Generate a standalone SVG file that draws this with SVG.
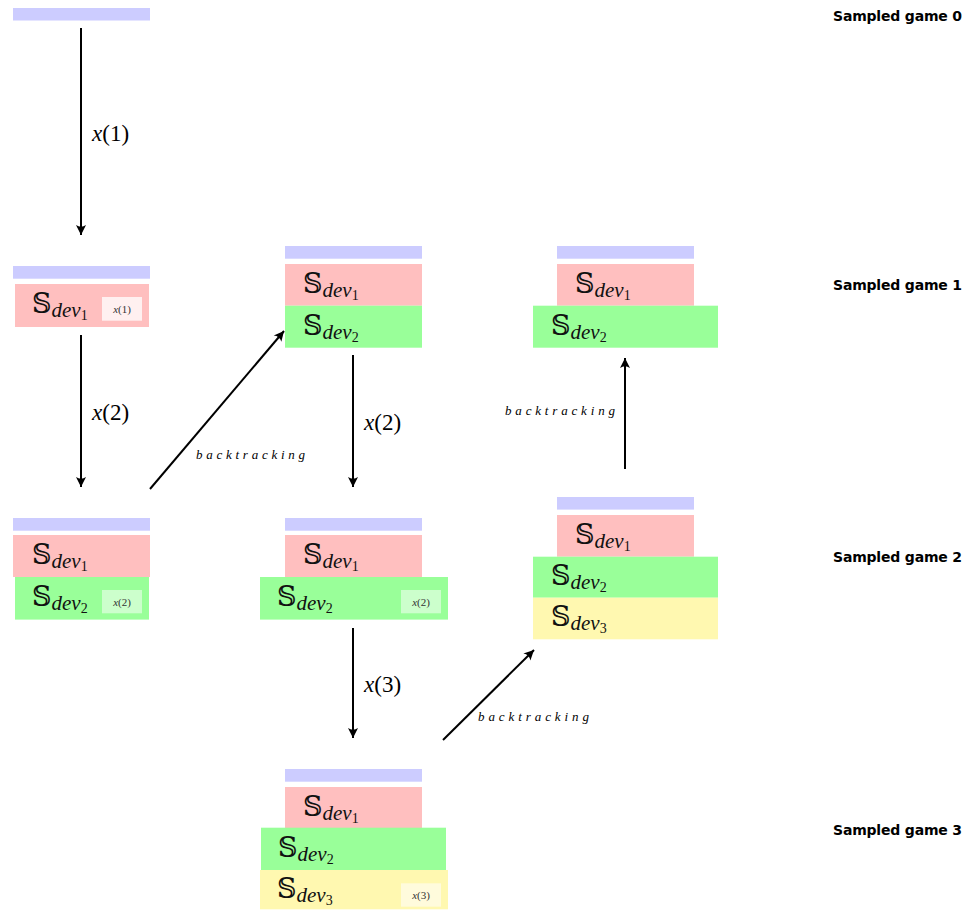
<svg xmlns="http://www.w3.org/2000/svg" width="966" height="913" viewBox="0 0 966 913">
<defs>
<style>
.bl{fill:#ccccff}
.rd{fill:#ffbfbf}
.gr{fill:#99ff99}
.yl{fill:#fff8b0}
.lr{fill:#fff0f0}
.lg{fill:#ccffcc}
.ly{fill:#fffbdc}
.st{font-family:"Liberation Serif",serif;font-size:21px;fill:#111}
.bb{font-family:"DejaVu Serif","DejaVu Sans",serif;font-size:27px}
.it{font-style:italic}
.sb{font-size:14px}
.sm{font-family:"Liberation Serif",serif;font-size:11px;fill:#333;text-anchor:middle}
.al{font-family:"Liberation Serif",serif;font-size:23px;fill:#000}
.bt{font-family:"Liberation Serif",serif;font-size:13px;font-style:italic;fill:#000}
.gm{font-family:"DejaVu Sans",sans-serif;font-size:14px;font-weight:bold;fill:#000}
.cn{stroke:#000;stroke-width:2;fill:none}
</style>
<marker id="ah" markerUnits="userSpaceOnUse" markerWidth="14" markerHeight="12" viewBox="-12 -6 14 12" refX="0" refY="0" orient="auto">
<path d="M0,0 L-10,-5 Q-6.5,0 -10,5 Z" fill="#000"/>
</marker>
</defs>

<g id="labels">
<text class="gm" x="833" y="21" textLength="129">Sampled game 0</text>
<text class="gm" x="833" y="290" textLength="129">Sampled game 1</text>
<text class="gm" x="833" y="562" textLength="129">Sampled game 2</text>
<text class="gm" x="833" y="835" textLength="129">Sampled game 3</text>
</g>

<g id="n0">
<rect class="bl" x="13" y="8" width="137" height="12.5"/>
</g>

<g id="n1">
<rect class="bl" x="13" y="266" width="137" height="12.7"/>
<rect class="rd" x="15" y="284" width="134" height="43"/>
<text class="st" x="32" y="313"><tspan class="bb">𝕊</tspan><tspan class="it" dy="4">dev</tspan><tspan class="sb" dy="3">1</tspan></text>
<rect class="lr" x="102" y="297" width="40" height="23.7"/>
<text class="sm" x="122" y="313"><tspan class="it">x</tspan>(1)</text>
</g>

<g id="n2">
<rect class="bl" x="13" y="518" width="137" height="12.7"/>
<rect class="rd" x="13" y="535" width="137" height="42"/>
<rect class="gr" x="15" y="577" width="134" height="42.6"/>
<text class="st" x="32" y="564"><tspan class="bb">𝕊</tspan><tspan class="it" dy="4">dev</tspan><tspan class="sb" dy="3">1</tspan></text>
<text class="st" x="32" y="606"><tspan class="bb">𝕊</tspan><tspan class="it" dy="4">dev</tspan><tspan class="sb" dy="3">2</tspan></text>
<rect class="lg" x="102" y="590" width="40" height="23.3"/>
<text class="sm" x="122" y="606"><tspan class="it">x</tspan>(2)</text>
</g>

<g id="n3">
<rect class="bl" x="285" y="246" width="137" height="12.7"/>
<rect class="rd" x="285" y="264" width="137" height="41.7"/>
<rect class="gr" x="285" y="305.7" width="137" height="42"/>
<text class="st" x="303" y="293"><tspan class="bb">𝕊</tspan><tspan class="it" dy="4">dev</tspan><tspan class="sb" dy="3">1</tspan></text>
<text class="st" x="303" y="335"><tspan class="bb">𝕊</tspan><tspan class="it" dy="4">dev</tspan><tspan class="sb" dy="3">2</tspan></text>
</g>

<g id="n4">
<rect class="bl" x="285" y="518" width="137" height="12.7"/>
<rect class="rd" x="285" y="535" width="137" height="42"/>
<rect class="gr" x="260" y="577" width="188" height="42.6"/>
<text class="st" x="303" y="564"><tspan class="bb">𝕊</tspan><tspan class="it" dy="4">dev</tspan><tspan class="sb" dy="3">1</tspan></text>
<text class="st" x="277" y="606"><tspan class="bb">𝕊</tspan><tspan class="it" dy="4">dev</tspan><tspan class="sb" dy="3">2</tspan></text>
<rect class="lg" x="401" y="590" width="40" height="23.3"/>
<text class="sm" x="421" y="606"><tspan class="it">x</tspan>(2)</text>
</g>

<g id="n5">
<rect class="bl" x="285" y="769" width="137" height="12.7"/>
<rect class="rd" x="285" y="787" width="137" height="41"/>
<rect class="gr" x="261" y="827.7" width="185" height="42.3"/>
<rect class="yl" x="260" y="870" width="188" height="39.3"/>
<text class="st" x="303" y="816"><tspan class="bb">𝕊</tspan><tspan class="it" dy="4">dev</tspan><tspan class="sb" dy="3">1</tspan></text>
<text class="st" x="278" y="857"><tspan class="bb">𝕊</tspan><tspan class="it" dy="4">dev</tspan><tspan class="sb" dy="3">2</tspan></text>
<text class="st" x="277" y="898"><tspan class="bb">𝕊</tspan><tspan class="it" dy="4">dev</tspan><tspan class="sb" dy="3">3</tspan></text>
<rect class="ly" x="401" y="883.3" width="40" height="23.4"/>
<text class="sm" x="421" y="899"><tspan class="it">x</tspan>(3)</text>
</g>

<g id="n6">
<rect class="bl" x="557" y="246" width="137" height="12.7"/>
<rect class="rd" x="557" y="264" width="137" height="41.7"/>
<rect class="gr" x="533" y="305.7" width="185" height="42"/>
<text class="st" x="575" y="293"><tspan class="bb">𝕊</tspan><tspan class="it" dy="4">dev</tspan><tspan class="sb" dy="3">1</tspan></text>
<text class="st" x="551" y="335"><tspan class="bb">𝕊</tspan><tspan class="it" dy="4">dev</tspan><tspan class="sb" dy="3">2</tspan></text>
</g>

<g id="n7">
<rect class="bl" x="557" y="497" width="137" height="12.6"/>
<rect class="rd" x="557" y="515" width="137" height="41.7"/>
<rect class="gr" x="533" y="556.7" width="185" height="41"/>
<rect class="yl" x="533" y="597.7" width="185" height="41.6"/>
<text class="st" x="575" y="544"><tspan class="bb">𝕊</tspan><tspan class="it" dy="4">dev</tspan><tspan class="sb" dy="3">1</tspan></text>
<text class="st" x="551" y="585"><tspan class="bb">𝕊</tspan><tspan class="it" dy="4">dev</tspan><tspan class="sb" dy="3">2</tspan></text>
<text class="st" x="551" y="626"><tspan class="bb">𝕊</tspan><tspan class="it" dy="4">dev</tspan><tspan class="sb" dy="3">3</tspan></text>
</g>

<g id="connectors">
<line class="cn" x1="81" y1="28" x2="81" y2="235" marker-end="url(#ah)"/>
<text class="al" x="92" y="141"><tspan class="it">x</tspan>(1)</text>
<line class="cn" x1="81" y1="335" x2="81" y2="487" marker-end="url(#ah)"/>
<text class="al" x="92" y="420"><tspan class="it">x</tspan>(2)</text>
<line class="cn" x1="150" y1="489" x2="284" y2="331" marker-end="url(#ah)"/>
<text class="bt" x="196" y="459" textLength="109">backtracking</text>
<line class="cn" x1="353" y1="355" x2="353" y2="487" marker-end="url(#ah)"/>
<text class="al" x="364" y="430"><tspan class="it">x</tspan>(2)</text>
<line class="cn" x1="353" y1="628" x2="353" y2="738" marker-end="url(#ah)"/>
<text class="al" x="364" y="692"><tspan class="it">x</tspan>(3)</text>
<line class="cn" x1="443" y1="740" x2="534" y2="650" marker-end="url(#ah)"/>
<text class="bt" x="478" y="721" textLength="111">backtracking</text>
<line class="cn" x1="625" y1="469" x2="625" y2="358" marker-end="url(#ah)"/>
<text class="bt" x="505" y="415" textLength="110">backtracking</text>
</g>
</svg>
